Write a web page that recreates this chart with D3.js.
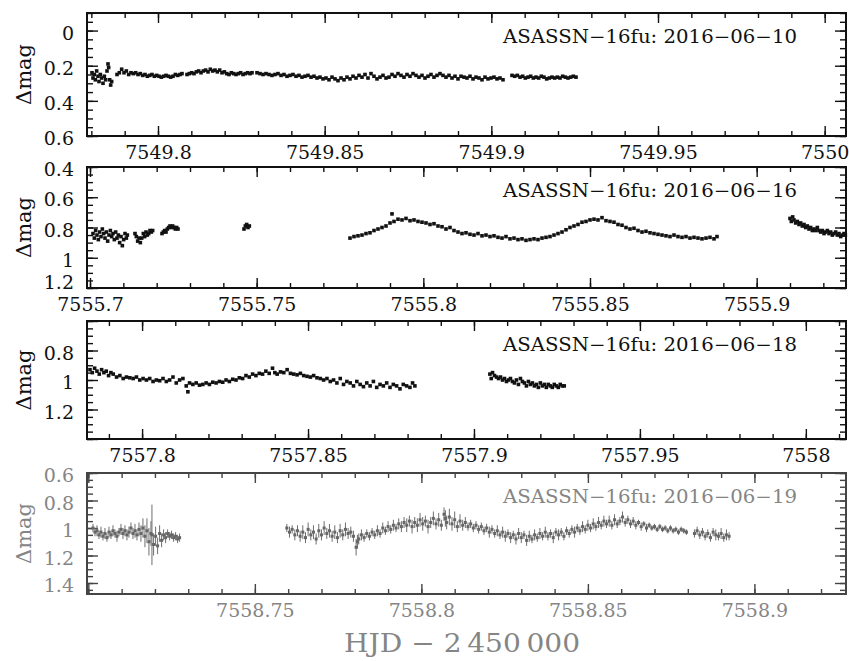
<!doctype html>
<html>
<head>
<meta charset="utf-8">
<title>ASASSN-16fu light curves</title>
<script src="https://d3js.org/d3.v7.min.js"></script>
<style>
  body { margin: 0; background: #fff; }
  text { font-family: "DejaVu Serif", serif; }
</style>
</head>
<body>
<script>
// HJD - 2450000, delta mag
var lc0610 = [
  [7549.7802,0.24],[7549.7805,0.27],[7549.7809,0.25],[7549.7812,0.28],[7549.7816,0.23],[7549.7820,0.26],
  [7549.7823,0.29],[7549.7827,0.25],[7549.7831,0.27],[7549.7835,0.30],[7549.7839,0.26],[7549.7843,0.28],
  [7549.7847,0.23],[7549.7850,0.19],[7549.7852,0.21],[7549.7855,0.28],[7549.7858,0.31],[7549.7861,0.29],
  [7549.7877,0.25],[7549.7884,0.24],[7549.7891,0.22],[7549.7898,0.24],[7549.7905,0.23],[7549.7912,0.25],
  [7549.7919,0.24],[7549.7926,0.245],[7549.7933,0.24],[7549.7940,0.25],[7549.7947,0.245],[7549.7954,0.255],
  [7549.7961,0.25],[7549.7968,0.26],[7549.7975,0.255],[7549.7982,0.25],[7549.7989,0.26],[7549.7996,0.255],
  [7549.8003,0.26],[7549.8010,0.265],[7549.8017,0.26],[7549.8024,0.255],[7549.8031,0.26],[7549.8038,0.265],
  [7549.8045,0.26],[7549.8052,0.25],[7549.8059,0.255],[7549.8066,0.25],[7549.8072,0.245],
  [7549.8087,0.25],[7549.8094,0.245],[7549.8101,0.24],[7549.8108,0.245],[7549.8115,0.235],[7549.8122,0.23],
  [7549.8129,0.24],[7549.8136,0.23],[7549.8143,0.225],[7549.8150,0.235],[7549.8157,0.22],[7549.8164,0.23],
  [7549.8171,0.225],[7549.8178,0.235],[7549.8185,0.225],[7549.8192,0.24],[7549.8199,0.235],[7549.8206,0.245],
  [7549.8213,0.25],[7549.8220,0.24],[7549.8227,0.245],[7549.8234,0.25],[7549.8241,0.245],[7549.8248,0.24],
  [7549.8255,0.25],[7549.8262,0.245],[7549.8269,0.24],[7549.8276,0.245],[7549.8282,0.24],
  [7549.8297,0.24],[7549.8306,0.245],[7549.8315,0.25],[7549.8324,0.245],[7549.8333,0.25],[7549.8342,0.255],
  [7549.8351,0.25],[7549.8360,0.245],[7549.8369,0.255],[7549.8378,0.25],[7549.8387,0.26],[7549.8396,0.255],
  [7549.8405,0.25],[7549.8414,0.26],[7549.8423,0.255],[7549.8432,0.265],[7549.8441,0.26],[7549.8450,0.255],
  [7549.8459,0.265],[7549.8468,0.26],[7549.8477,0.27],[7549.8486,0.265],[7549.8495,0.275],[7549.8504,0.27],
  [7549.8513,0.28],[7549.8522,0.265],[7549.8531,0.275],[7549.8540,0.285],[7549.8549,0.27],[7549.8558,0.28],
  [7549.8567,0.265],[7549.8576,0.275],[7549.8585,0.26],[7549.8594,0.27],[7549.8603,0.255],[7549.8612,0.265],
  [7549.8621,0.25],[7549.8630,0.27],[7549.8639,0.245],[7549.8648,0.26],[7549.8657,0.275],[7549.8666,0.265],
  [7549.8675,0.255],[7549.8684,0.27],[7549.8693,0.265],[7549.8702,0.25],[7549.8711,0.26],[7549.8720,0.245],
  [7549.8729,0.255],[7549.8738,0.265],[7549.8747,0.25],[7549.8756,0.26],[7549.8765,0.245],[7549.8774,0.255],
  [7549.8783,0.265],[7549.8792,0.255],[7549.8801,0.27],[7549.8810,0.26],[7549.8819,0.25],[7549.8828,0.265],
  [7549.8837,0.255],[7549.8846,0.245],[7549.8855,0.255],[7549.8864,0.265],[7549.8873,0.255],[7549.8882,0.27],
  [7549.8891,0.26],[7549.8900,0.275],[7549.8909,0.26],[7549.8918,0.265],[7549.8927,0.27],[7549.8936,0.26],
  [7549.8945,0.275],[7549.8954,0.265],[7549.8963,0.27],[7549.8972,0.28],[7549.8981,0.265],[7549.8990,0.275],
  [7549.8999,0.27],[7549.9008,0.265],[7549.9017,0.275],[7549.9026,0.27],[7549.9035,0.28],
  [7549.9062,0.255],[7549.9070,0.26],[7549.9078,0.255],[7549.9086,0.265],[7549.9094,0.26],[7549.9102,0.27],
  [7549.9110,0.265],[7549.9118,0.26],[7549.9126,0.27],[7549.9134,0.265],[7549.9142,0.27],[7549.9150,0.26],
  [7549.9158,0.265],[7549.9166,0.275],[7549.9174,0.27],[7549.9182,0.265],[7549.9190,0.27],[7549.9198,0.265],
  [7549.9206,0.27],[7549.9214,0.26],[7549.9222,0.265],[7549.9230,0.27],[7549.9238,0.265],[7549.9246,0.26],
  [7549.9254,0.265]
];

var lc0616 = [
  [7555.7009,0.84],[7555.7013,0.87],[7555.7017,0.82],[7555.7021,0.85],[7555.7025,0.88],[7555.7029,0.83],
  [7555.7033,0.86],[7555.7037,0.81],[7555.7041,0.84],[7555.7045,0.87],[7555.7049,0.83],[7555.7053,0.89],
  [7555.7057,0.85],[7555.7061,0.82],[7555.7065,0.86],[7555.7069,0.84],[7555.7073,0.88],[7555.7077,0.83],
  [7555.7081,0.87],[7555.7085,0.85],[7555.7089,0.90],[7555.7093,0.86],[7555.7097,0.92],[7555.7101,0.88],
  [7555.7105,0.84],[7555.7109,0.87],[7555.7112,0.85],
  [7555.7135,0.84],[7555.7139,0.86],[7555.7143,0.89],[7555.7147,0.87],[7555.7151,0.90],[7555.7155,0.87],
  [7555.7160,0.84],[7555.7164,0.86],[7555.7168,0.83],[7555.7172,0.85],[7555.7176,0.84],[7555.7180,0.82],
  [7555.7184,0.83],[7555.7188,0.82],
  [7555.7216,0.84],[7555.7220,0.83],[7555.7224,0.82],[7555.7228,0.83],[7555.7232,0.81],[7555.7236,0.80],
  [7555.7240,0.79],[7555.7244,0.80],[7555.7248,0.79],[7555.7252,0.80],[7555.7256,0.81],[7555.7260,0.80],
  [7555.7264,0.81],
  [7555.7462,0.81],[7555.7466,0.79],[7555.7470,0.78],[7555.7474,0.80],[7555.7478,0.79],
  [7555.7780,0.87],[7555.7792,0.86],[7555.7804,0.855],[7555.7816,0.85],[7555.7828,0.84],[7555.7840,0.835],
  [7555.7852,0.82],[7555.7864,0.81],[7555.7876,0.80],[7555.7888,0.79],[7555.7900,0.77],[7555.7906,0.71],
  [7555.7912,0.76],[7555.7924,0.745],[7555.7936,0.75],[7555.7948,0.74],[7555.7960,0.755],[7555.7972,0.75],
  [7555.7984,0.76],[7555.7996,0.765],[7555.8008,0.77],[7555.8020,0.78],[7555.8032,0.775],[7555.8044,0.79],
  [7555.8056,0.795],[7555.8068,0.81],[7555.8080,0.80],[7555.8092,0.82],[7555.8104,0.83],[7555.8116,0.84],
  [7555.8128,0.835],[7555.8140,0.845],[7555.8152,0.85],[7555.8164,0.84],[7555.8176,0.855],[7555.8188,0.85],
  [7555.8200,0.86],[7555.8212,0.855],[7555.8224,0.865],[7555.8236,0.87],[7555.8248,0.86],[7555.8260,0.875],
  [7555.8272,0.87],[7555.8284,0.88],[7555.8296,0.875],[7555.8308,0.885],[7555.8320,0.88],[7555.8332,0.875],
  [7555.8344,0.88],[7555.8356,0.87],[7555.8368,0.865],[7555.8380,0.86],[7555.8392,0.85],[7555.8404,0.84],
  [7555.8416,0.83],[7555.8428,0.815],[7555.8440,0.80],[7555.8452,0.79],[7555.8464,0.78],[7555.8476,0.765],
  [7555.8488,0.76],[7555.8500,0.75],[7555.8512,0.745],[7555.8524,0.75],[7555.8536,0.735],[7555.8548,0.755],
  [7555.8560,0.76],[7555.8572,0.765],[7555.8584,0.78],[7555.8596,0.785],[7555.8608,0.80],[7555.8620,0.81],
  [7555.8632,0.805],[7555.8644,0.82],[7555.8656,0.83],[7555.8668,0.825],[7555.8680,0.835],[7555.8692,0.84],
  [7555.8704,0.845],[7555.8716,0.85],[7555.8728,0.855],[7555.8740,0.86],[7555.8752,0.85],[7555.8764,0.86],
  [7555.8776,0.865],[7555.8788,0.86],[7555.8800,0.87],[7555.8812,0.865],[7555.8824,0.87],[7555.8836,0.875],
  [7555.8848,0.87],[7555.8860,0.865],[7555.8872,0.875],[7555.8881,0.86],
  [7555.9100,0.74],[7555.9104,0.76],[7555.9108,0.73],[7555.9112,0.75],[7555.9117,0.77],[7555.9122,0.76],
  [7555.9127,0.78],[7555.9132,0.77],[7555.9137,0.79],[7555.9142,0.78],[7555.9147,0.80],[7555.9152,0.79],
  [7555.9157,0.81],[7555.9162,0.80],[7555.9167,0.82],[7555.9172,0.81],[7555.9177,0.82],[7555.9182,0.80],
  [7555.9187,0.82],[7555.9192,0.83],[7555.9197,0.82],[7555.9202,0.84],[7555.9207,0.83],[7555.9212,0.82],
  [7555.9217,0.84],[7555.9222,0.83],[7555.9227,0.85],[7555.9232,0.84],[7555.9237,0.83],[7555.9242,0.85],
  [7555.9247,0.84],[7555.9252,0.86],[7555.9257,0.85],[7555.9262,0.84],[7555.9266,0.85]
];

var lc0618 = [
  [7557.7843,0.93],[7557.7850,0.95],[7557.7857,0.92],[7557.7864,0.94],[7557.7871,0.96],[7557.7878,0.93],
  [7557.7885,0.95],[7557.7892,0.94],[7557.7899,0.97],[7557.7906,0.95],[7557.7913,0.96],[7557.7923,0.98],
  [7557.7933,0.97],[7557.7943,0.99],[7557.7953,0.98],[7557.7963,0.985],[7557.7973,0.99],[7557.7983,0.98],
  [7557.7993,1.00],[7557.8003,0.99],[7557.8013,1.00],[7557.8023,0.99],[7557.8033,1.01],[7557.8043,1.00],
  [7557.8053,1.005],[7557.8063,0.99],[7557.8073,1.01],[7557.8083,1.00],[7557.8093,0.98],[7557.8103,1.02],
  [7557.8113,1.00],[7557.8123,0.99],[7557.8133,1.04],[7557.8138,1.08],[7557.8143,1.02],[7557.8153,1.03],
  [7557.8163,1.02],[7557.8173,1.035],[7557.8183,1.03],[7557.8193,1.02],[7557.8203,1.03],[7557.8213,1.015],
  [7557.8223,1.02],[7557.8233,1.01],[7557.8243,1.015],[7557.8253,1.00],[7557.8263,1.01],[7557.8273,0.995],
  [7557.8283,1.00],[7557.8293,0.985],[7557.8303,0.99],[7557.8313,0.97],[7557.8323,0.98],[7557.8333,0.96],
  [7557.8343,0.97],[7557.8353,0.955],[7557.8363,0.96],[7557.8373,0.94],[7557.8383,0.955],[7557.8393,0.92],
  [7557.8400,0.95],[7557.8407,0.96],[7557.8417,0.945],[7557.8427,0.95],[7557.8437,0.93],[7557.8447,0.955],
  [7557.8457,0.96],[7557.8467,0.965],[7557.8477,0.955],[7557.8487,0.97],[7557.8497,0.975],[7557.8507,0.98],
  [7557.8517,0.97],[7557.8527,0.985],[7557.8537,0.99],[7557.8547,1.00],[7557.8557,0.99],[7557.8567,1.01],
  [7557.8577,1.00],[7557.8587,1.02],[7557.8597,0.99],[7557.8607,1.03],[7557.8617,1.01],[7557.8627,1.02],
  [7557.8637,1.04],[7557.8647,1.01],[7557.8657,1.03],[7557.8667,1.045],[7557.8677,1.02],[7557.8687,1.04],
  [7557.8697,1.01],[7557.8707,1.05],[7557.8717,1.03],[7557.8727,1.04],[7557.8737,1.02],[7557.8747,1.05],
  [7557.8757,1.03],[7557.8767,1.04],[7557.8777,1.06],[7557.8787,1.03],[7557.8797,1.04],[7557.8807,1.05],
  [7557.8815,1.02],[7557.8822,1.04],
  [7557.9048,0.96],[7557.9052,0.99],[7557.9056,0.95],[7557.9062,0.97],[7557.9068,0.98],[7557.9074,0.99],
  [7557.9080,0.98],[7557.9086,1.00],[7557.9092,0.99],[7557.9098,1.01],[7557.9104,1.00],[7557.9110,0.99],
  [7557.9116,1.01],[7557.9122,1.02],[7557.9128,1.00],[7557.9134,1.03],[7557.9140,0.99],[7557.9146,1.01],
  [7557.9152,1.02],[7557.9158,1.04],[7557.9164,1.01],[7557.9170,1.03],[7557.9176,1.02],[7557.9182,1.04],
  [7557.9188,1.03],[7557.9194,1.05],[7557.9200,1.02],[7557.9206,1.04],[7557.9212,1.03],[7557.9218,1.05],
  [7557.9224,1.03],[7557.9230,1.04],[7557.9236,1.05],[7557.9242,1.03],[7557.9248,1.04],[7557.9254,1.05],
  [7557.9260,1.03],[7557.9266,1.04],[7557.9272,1.04]
];

// [HJD, mag, error]
var lc0619 = [
  [7558.7014,1.00,0.03],[7558.7020,1.03,0.03],[7558.7026,1.02,0.04],[7558.7032,1.05,0.03],[7558.7038,1.03,0.04],
  [7558.7044,1.06,0.03],[7558.7050,1.04,0.04],[7558.7056,1.07,0.03],[7558.7062,1.03,0.04],[7558.7068,1.05,0.03],
  [7558.7074,1.02,0.04],[7558.7080,1.04,0.03],[7558.7086,1.06,0.04],[7558.7092,1.03,0.03],[7558.7098,1.01,0.04],
  [7558.7104,1.04,0.04],[7558.7110,1.02,0.04],[7558.7116,1.05,0.04],[7558.7122,1.03,0.04],[7558.7128,1.00,0.04],
  [7558.7134,1.04,0.04],[7558.7140,1.02,0.05],[7558.7146,1.05,0.04],[7558.7152,1.01,0.05],[7558.7158,1.04,0.06],
  [7558.7164,1.00,0.07],[7558.7170,1.06,0.08],[7558.7176,1.02,0.09],[7558.7182,1.10,0.10],[7558.7188,1.04,0.09],
  [7558.7191,1.05,0.22],[7558.7196,1.12,0.08],[7558.7202,1.06,0.07],[7558.7208,1.13,0.06],[7558.7214,1.04,0.06],
  [7558.7220,1.09,0.05],[7558.7226,1.05,0.04],[7558.7232,1.07,0.04],[7558.7238,1.04,0.03],[7558.7244,1.06,0.03],
  [7558.7250,1.05,0.03],[7558.7256,1.07,0.03],[7558.7262,1.06,0.03],[7558.7268,1.08,0.03],[7558.7274,1.07,0.03],
  [7558.7596,1.00,0.03],[7558.7604,1.03,0.04],[7558.7612,1.01,0.03],[7558.7620,1.05,0.04],[7558.7628,1.02,0.04],
  [7558.7636,1.06,0.04],[7558.7644,1.03,0.05],[7558.7652,1.07,0.04],[7558.7660,1.01,0.05],[7558.7668,1.05,0.04],
  [7558.7676,1.03,0.05],[7558.7684,1.08,0.04],[7558.7692,1.02,0.05],[7558.7700,1.05,0.04],[7558.7708,1.00,0.05],
  [7558.7716,1.04,0.04],[7558.7724,1.02,0.05],[7558.7732,1.06,0.04],[7558.7740,1.03,0.05],[7558.7748,1.07,0.04],
  [7558.7756,1.02,0.05],[7558.7764,1.05,0.04],[7558.7772,1.01,0.05],[7558.7780,1.04,0.04],[7558.7788,1.03,0.04],
  [7558.7796,1.06,0.04],[7558.7804,1.14,0.06],[7558.7808,1.10,0.05],[7558.7812,1.08,0.04],[7558.7820,1.05,0.04],
  [7558.7828,1.07,0.03],[7558.7836,1.04,0.03],[7558.7844,1.06,0.03],[7558.7852,1.03,0.03],[7558.7860,1.05,0.03],
  [7558.7868,1.02,0.04],[7558.7876,1.04,0.03],[7558.7884,1.00,0.04],[7558.7892,1.02,0.03],[7558.7900,0.99,0.04],
  [7558.7908,1.01,0.03],[7558.7916,0.98,0.04],[7558.7924,1.00,0.03],[7558.7932,0.97,0.04],[7558.7940,0.99,0.04],
  [7558.7948,0.96,0.04],[7558.7956,0.98,0.05],[7558.7964,0.95,0.04],[7558.7972,0.99,0.05],[7558.7980,0.96,0.04],
  [7558.7988,0.98,0.05],[7558.7996,0.94,0.05],[7558.8004,0.97,0.05],[7558.8012,0.95,0.04],[7558.8020,0.99,0.05],
  [7558.8028,0.96,0.04],[7558.8036,0.93,0.05],[7558.8044,0.97,0.04],[7558.8052,0.94,0.05],[7558.8060,0.98,0.04],
  [7558.8068,0.90,0.05],[7558.8072,0.93,0.06],[7558.8076,0.96,0.05],[7558.8084,0.92,0.06],[7558.8092,0.97,0.05],
  [7558.8100,0.94,0.06],[7558.8108,0.99,0.04],[7558.8116,0.95,0.05],[7558.8124,0.98,0.04],[7558.8132,0.96,0.04],
  [7558.8140,0.99,0.03],[7558.8148,0.97,0.03],[7558.8156,1.00,0.03],[7558.8164,0.98,0.03],[7558.8172,1.01,0.03],
  [7558.8180,0.99,0.03],[7558.8188,1.02,0.03],[7558.8196,1.00,0.03],[7558.8204,1.03,0.04],[7558.8212,1.01,0.03],
  [7558.8220,1.04,0.03],[7558.8228,1.02,0.04],[7558.8236,1.05,0.03],[7558.8244,1.03,0.04],[7558.8252,1.06,0.04],
  [7558.8260,1.04,0.03],[7558.8268,1.07,0.04],[7558.8276,1.05,0.03],[7558.8284,1.08,0.04],[7558.8292,1.04,0.04],
  [7558.8300,1.07,0.04],[7558.8308,1.05,0.03],[7558.8316,1.09,0.04],[7558.8324,1.06,0.04],[7558.8332,1.08,0.03],
  [7558.8340,1.05,0.04],[7558.8348,1.07,0.03],[7558.8356,1.04,0.04],[7558.8364,1.06,0.03],[7558.8372,1.03,0.04],
  [7558.8380,1.06,0.03],[7558.8388,1.04,0.03],[7558.8396,1.07,0.04],[7558.8404,1.03,0.03],[7558.8412,1.05,0.04],
  [7558.8420,1.03,0.03],[7558.8428,1.06,0.03],[7558.8436,1.02,0.03],[7558.8444,1.04,0.03],[7558.8452,1.01,0.03],
  [7558.8460,1.03,0.04],[7558.8468,1.00,0.03],[7558.8476,1.02,0.03],[7558.8484,0.99,0.04],[7558.8492,1.01,0.03],
  [7558.8500,0.98,0.04],[7558.8508,1.00,0.03],[7558.8516,0.97,0.04],[7558.8524,0.99,0.03],[7558.8532,0.96,0.04],
  [7558.8540,0.98,0.03],[7558.8548,0.95,0.04],[7558.8556,0.97,0.03],[7558.8564,0.95,0.04],[7558.8572,0.98,0.03],
  [7558.8580,0.94,0.04],[7558.8588,0.97,0.03],[7558.8596,0.95,0.03],[7558.8604,0.92,0.04],[7558.8612,0.96,0.03],
  [7558.8620,0.94,0.03],[7558.8628,0.97,0.03],[7558.8636,0.95,0.03],[7558.8644,0.98,0.03],[7558.8652,0.96,0.02],
  [7558.8660,0.99,0.03],[7558.8668,0.97,0.02],[7558.8676,1.00,0.03],[7558.8684,0.98,0.02],[7558.8692,1.00,0.02],
  [7558.8700,0.99,0.02],[7558.8708,1.01,0.02],[7558.8716,0.99,0.02],[7558.8724,1.01,0.02],[7558.8732,1.00,0.02],
  [7558.8740,1.02,0.02],[7558.8748,1.00,0.02],[7558.8756,1.02,0.02],[7558.8764,1.01,0.02],[7558.8772,1.03,0.02],
  [7558.8780,1.01,0.02],[7558.8788,1.02,0.02],[7558.8796,1.03,0.02],
  [7558.8820,1.04,0.03],[7558.8828,1.02,0.03],[7558.8836,1.05,0.03],[7558.8844,1.03,0.03],[7558.8852,1.06,0.03],
  [7558.8860,1.04,0.03],[7558.8868,1.07,0.03],[7558.8876,1.03,0.03],[7558.8884,1.05,0.04],[7558.8892,1.06,0.03],
  [7558.8900,1.04,0.04],[7558.8908,1.07,0.03],[7558.8916,1.05,0.04],[7558.8924,1.06,0.03]
];

var titles = ["ASASSN\u221216fu: 2016\u221206\u221210", "ASASSN\u221216fu: 2016\u221206\u221216",
              "ASASSN\u221216fu: 2016\u221206\u221218", "ASASSN\u221216fu: 2016\u221206\u221219"];
var xTicks = [[7549.8, 7549.85, 7549.9, 7549.95, 7550],
              [7555.7, 7555.75, 7555.8, 7555.85, 7555.9],
              [7557.8, 7557.85, 7557.9, 7557.95, 7558],
              [7558.75, 7558.8, 7558.85, 7558.9]];
var yTicks = [[0, 0.2, 0.4, 0.6], [0.4, 0.6, 0.8, 1, 1.2], [0.8, 1, 1.2], [0.6, 0.8, 1, 1.2, 1.4]];
var xDomains = [[7549.7787, 7550.0064], [7555.6991, 7555.9268], [7557.7834, 7558.0121], [7558.6996, 7558.9275]];
var yDomains = [[-0.1, 0.6], [0.4, 1.2], [0.6, 1.4], [0.6, 1.48]];
var curves = [lc0610, lc0616, lc0618, lc0619];

// layout
var W = 849, H = 661, L = 87, R = 846;
var tops = [13, 167, 321, 473], bottoms = [136, 288, 439, 594];

var svg = d3.select("body").append("svg").attr("width", W).attr("height", H);
svg.append("rect").attr("width", W).attr("height", H).attr("fill", "#fff");

var fmt = function (d) { return String(+d.toFixed(2)); };

curves.forEach(function (data, i) {
    var top = tops[i], bottom = bottoms[i];
    var last = (i === 3);
    var ink = last ? "#444" : "#111";
    var txt = last ? "#858585" : "#111";
    var x = d3.scaleLinear().domain(xDomains[i]).range([L, R]);
    var y = d3.scaleLinear().domain(yDomains[i]).range([top, bottom]);
    var g = svg.append("g");

    var xd = xDomains[i], yd = yDomains[i];
    var xMinor = d3.range(Math.ceil(xd[0] * 100), Math.floor(xd[1] * 100) + 1).map(function (k) { return k / 100; });
    var xMajor = xMinor.filter(function (v) { return Math.abs(v * 20 - Math.round(v * 20)) < 1e-6; });
    var yMinor = d3.range(Math.ceil(yd[0] * 20 - 1e-9), Math.floor(yd[1] * 20 + 1e-9) + 1).map(function (k) { return k / 20; });
    var yMajor = yMinor.filter(function (v) { return Math.abs(v * 5 - Math.round(v * 5)) < 1e-6; });

    function tickRow(axis, vals, size, tr) {
        g.append("g").attr("transform", tr)
            .call(axis.tickValues(vals).tickSize(size).tickFormat(""))
            .call(function (s) { s.select(".domain").remove(); })
            .call(function (s) { s.selectAll("line").attr("stroke", ink).attr("stroke-width", 1.4); });
    }
    tickRow(d3.axisBottom(x), xMinor, -5, "translate(0," + bottom + ")");
    tickRow(d3.axisBottom(x), xMajor, -10, "translate(0," + bottom + ")");
    tickRow(d3.axisTop(x), xMinor, -5, "translate(0," + top + ")");
    tickRow(d3.axisTop(x), xMajor, -10, "translate(0," + top + ")");
    tickRow(d3.axisLeft(y), yMinor, -6, "translate(" + L + ",0)");
    tickRow(d3.axisLeft(y), yMajor, -11, "translate(" + L + ",0)");
    tickRow(d3.axisRight(y), yMinor, -6, "translate(" + R + ",0)");
    tickRow(d3.axisRight(y), yMajor, -11, "translate(" + R + ",0)");

    // tick labels
    g.append("g").attr("transform", "translate(0," + bottom + ")")
        .call(d3.axisBottom(x).tickValues(xTicks[i]).tickSize(0).tickPadding(10).tickFormat(fmt))
        .call(function (s) { s.select(".domain").remove(); })
        .call(function (s) {
            s.selectAll("text").attr("fill", txt).style("font-family", '"DejaVu Serif", serif').style("font-size", "19px");
        });
    g.append("g").attr("transform", "translate(" + L + ",0)")
        .call(d3.axisLeft(y).tickValues(yTicks[i]).tickSize(0).tickPadding(13).tickFormat(fmt))
        .call(function (s) { s.select(".domain").remove(); })
        .call(function (s) {
            s.selectAll("text").attr("fill", txt)
                // label sitting on the lower frame edge is lifted a little
                .attr("dy", function (d) { return Math.abs(y(d) - bottom) < 1 && i === 1 ? "0.05em" : "0.45em"; })
                .style("font-family", '"DejaVu Serif", serif').style("font-size", "19px");
        });

    // frame
    g.append("rect").attr("x", L).attr("y", top).attr("width", R - L).attr("height", bottom - top)
        .attr("fill", "none").attr("stroke", ink).attr("stroke-width", 2);

    // data
    if (last) {
        g.selectAll("line.err").data(data).join("line").attr("class", "err")
            .attr("x1", function (d) { return x(d[0]); }).attr("x2", function (d) { return x(d[0]); })
            .attr("y1", function (d) { return y(d[1] - d[2]); }).attr("y2", function (d) { return y(d[1] + d[2]); })
            .attr("stroke", "#6e6e6e").attr("stroke-width", 1);
        g.selectAll("rect.pt").data(data).join("rect").attr("class", "pt")
            .attr("x", function (d) { return x(d[0]) - 1.5; }).attr("y", function (d) { return y(d[1]) - 1.5; })
            .attr("width", 3).attr("height", 3).attr("fill", "#666");
    } else {
        g.selectAll("rect.pt").data(data).join("rect").attr("class", "pt")
            .attr("x", function (d) { return x(d[0]) - 1.8; }).attr("y", function (d) { return y(d[1]) - 1.8; })
            .attr("width", 3.6).attr("height", 3.6).attr("fill", "#111");
    }

    // title
    g.append("text").attr("x", 503).attr("y", top + 30)
        .attr("textLength", 294).attr("lengthAdjust", "spacingAndGlyphs")
        .attr("fill", txt).style("font-size", "18px").text(titles[i]);

    // y axis label
    g.append("text").attr("transform", "translate(31," + ((top + bottom) / 2) + ") rotate(-90)")
        .attr("text-anchor", "middle").attr("fill", txt).style("font-size", "21px").text("\u0394mag");
});

svg.append("text").attr("x", 462).attr("y", 652).attr("text-anchor", "middle")
    .attr("textLength", 236).attr("lengthAdjust", "spacingAndGlyphs")
    .attr("fill", "#858585").style("font-size", "26px").text("HJD \u2212 2\u2009450\u2009000");
</script>
</body>
</html>
